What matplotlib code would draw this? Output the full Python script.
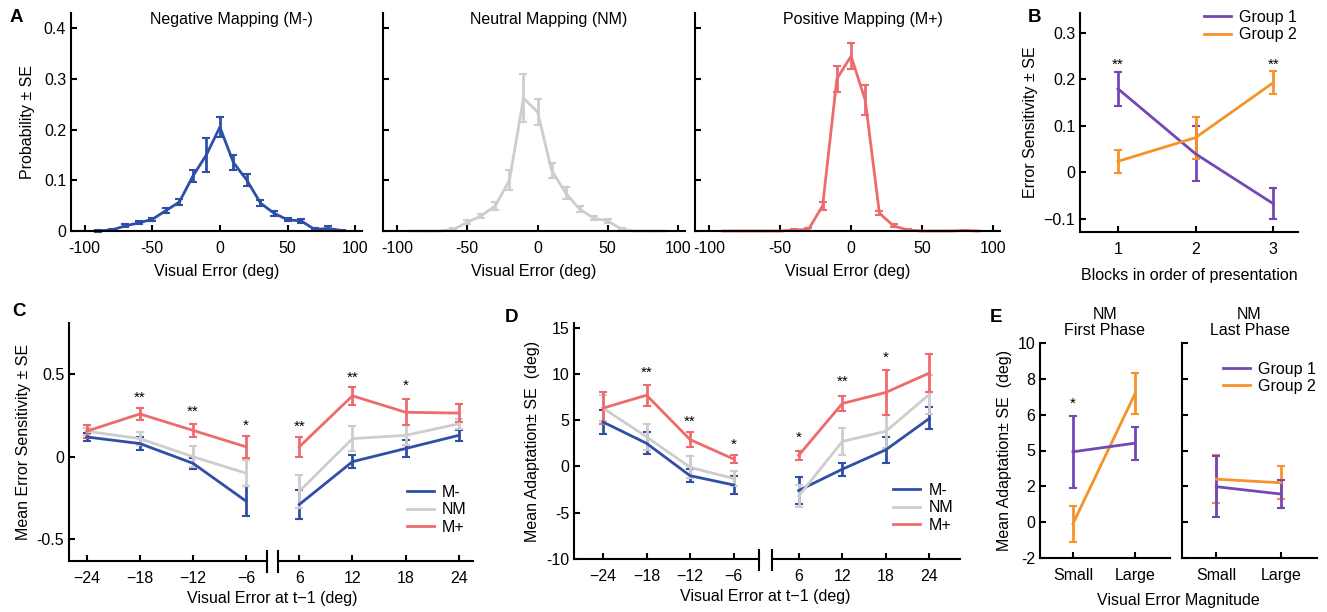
import matplotlib
matplotlib.use('Agg')
import matplotlib.pyplot as plt
from matplotlib.lines import Line2D
import numpy as np

plt.rcParams['font.family'] = ['Liberation Sans', 'DejaVu Sans']
plt.rcParams['font.size'] = 11.5
FS = 11.5

# ---- panel A: distributions of visual error ----
bins = np.arange(-90, 100, 10)
prob_mneg = [0.0, 0.002, 0.010, 0.016, 0.023, 0.040, 0.057, 0.108, 0.150, 0.205,
             0.135, 0.100, 0.055, 0.035, 0.022, 0.020, 0.003, 0.005, 0.001]
se_mneg = [0.001, 0.002, 0.003, 0.003, 0.003, 0.005, 0.006, 0.012, 0.033, 0.020,
           0.015, 0.012, 0.006, 0.005, 0.003, 0.004, 0.002, 0.005, 0.001]
prob_nm = [0.0, 0.0, 0.0, 0.003, 0.017, 0.030, 0.050, 0.100, 0.262, 0.235,
           0.120, 0.075, 0.043, 0.025, 0.020, 0.003, 0.0, 0.0, 0.0]
se_nm = [0, 0, 0, 0.002, 0.004, 0.004, 0.008, 0.020, 0.047, 0.026,
         0.015, 0.012, 0.006, 0.004, 0.004, 0.002, 0, 0, 0]
prob_mpos = [0.0, 0.0, 0.0, 0.0, 0.0, 0.002, 0.003, 0.050, 0.300, 0.345,
             0.258, 0.035, 0.010, 0.002, 0.0, 0.0, 0.0, 0.001, 0.0]
se_mpos = [0, 0, 0, 0, 0, 0.002, 0.003, 0.008, 0.026, 0.025,
           0.030, 0.004, 0.003, 0.001, 0, 0, 0, 0.001, 0]

# ---- panel B: error sensitivity by block ----
blocks = [1, 2, 3]
es_g1 = [0.180, 0.040, -0.067]
es_g1_se = [0.037, 0.059, 0.033]
es_g2 = [0.024, 0.075, 0.193]
es_g2_se = [0.025, 0.045, 0.025]
b_star_x = [1, 3]
b_star_y = [0.232, 0.232]

# ---- panels C and D: by previous visual error ----
err_neg = [-24, -18, -12, -6]
err_pos = [6, 12, 18, 24]
c_mneg = [0.12, 0.08, -0.04, -0.27, -0.29, -0.03, 0.05, 0.13]
c_mneg_se = [0.025, 0.04, 0.035, 0.09, 0.09, 0.04, 0.05, 0.035]
c_nm = [0.155, 0.11, 0.0, -0.10, -0.21, 0.11, 0.13, 0.20]
c_nm_se = [0.02, 0.04, 0.065, 0.08, 0.10, 0.075, 0.06, 0.03]
c_mpos = [0.155, 0.26, 0.16, 0.06, 0.06, 0.37, 0.27, 0.265]
c_mpos_se = [0.04, 0.035, 0.04, 0.065, 0.06, 0.055, 0.08, 0.055]
c_stars = ['', '**', '**', '*', '**', '**', '*', '']
c_star_y = [0, 0.36, 0.27, 0.19, 0.18, 0.48, 0.43, 0]

d_mneg = [4.8, 2.5, -1.0, -2.0, -2.6, -0.3, 1.8, 5.2]
d_mneg_se = [1.25, 1.2, 0.7, 1.0, 1.5, 0.7, 1.4, 1.2]
d_nm = [6.3, 3.2, -0.1, -1.3, -3.2, 2.7, 3.8, 7.8]
d_nm_se = [1.4, 1.4, 1.2, 0.8, 1.2, 1.5, 1.8, 2.1]
d_mpos = [6.3, 7.7, 2.9, 0.8, 1.2, 6.8, 8.0, 10.1]
d_mpos_se = [1.75, 1.15, 0.8, 0.4, 0.5, 0.8, 2.4, 2.05]
d_stars = ['', '**', '**', '*', '*', '**', '*', '']
d_star_y = [0, 10.1, 4.8, 2.3, 3.1, 9.1, 11.7, 0]

# ---- panel E: NM first / last phase ----
mag_labels = ['Small', 'Large']
e_first_g1 = [3.93, 4.41]
e_first_g1_se = [2.0, 0.92]
e_first_g2 = [-0.09, 7.19]
e_first_g2_se = [1.0, 1.15]
e_last_g1 = [1.98, 1.57]
e_last_g1_se = [1.7, 0.78]
e_last_g2 = [2.40, 2.20]
e_last_g2_se = [1.33, 0.92]

BLUE = '#2f4ea6'
GRAY = '#cdcdcd'
RED = '#ef6a6c'
PURPLE = '#7448b4'
ORANGE = '#f5932a'

W, H = 1327, 612
fig = plt.figure(figsize=(W / 100, H / 100), dpi=100)


def add_ax(l, t, r, b):
    return fig.add_axes([l / W, 1 - b / H, (r - l) / W, (b - t) / H])


def style(ax, left=True):
    for s in ['top', 'right']:
        ax.spines[s].set_visible(False)
    ax.spines['bottom'].set_linewidth(1.5)
    ax.spines['left'].set_linewidth(1.5)
    ax.tick_params(direction='in', width=1.5, length=4, labelsize=FS)
    ax.tick_params(axis='x', pad=7)
    if not left:
        ax.spines['left'].set_visible(False)
        ax.tick_params(axis='y', left=False, labelleft=False)


def ebar(ax, x, y, e, c):
    ax.errorbar(x, y, yerr=e, color=c, lw=2, elinewidth=2, capsize=3,
                capthick=1.5, clip_on=False)


def line_legend(ax, names, colors, **kw):
    handles = [Line2D([], [], color=c, lw=2) for c in colors]
    ax.legend(handles, names, frameon=False, handlelength=1.7,
              handletextpad=0.5, labelspacing=0.15, fontsize=FS, **kw)


# panel A
a_rects = [(71, 13, 362, 231), (383, 13, 685, 231), (695, 13, 1000, 231)]
a_data = [(prob_mneg, se_mneg, BLUE, 'Negative Mapping (M-)'),
          (prob_nm, se_nm, GRAY, 'Neutral Mapping (NM)'),
          (prob_mpos, se_mpos, RED, 'Positive Mapping (M+)')]
for i, (rect, (p, s, c, title)) in enumerate(zip(a_rects, a_data)):
    ax = add_ax(*rect)
    style(ax)
    ebar(ax, bins, p, s, c)
    ax.set_xlim(-110, 105)
    ax.set_ylim(0, 0.43)
    ax.set_xticks([-100, -50, 0, 50, 100])
    ax.set_xticklabels(['-100', '-50', '0', '50', '100'])
    ax.set_yticks([0, 0.1, 0.2, 0.3, 0.4])
    if i == 0:
        ax.set_yticklabels(['0', '0.1', '0.2', '0.3', '0.4'])
        ax.set_ylabel('Probability ± SE', fontsize=FS, labelpad=6)
    else:
        ax.set_yticklabels([])
    ax.set_xlabel('Visual Error (deg)', fontsize=FS, labelpad=6)
    ax.text(0.55, 0.97, title, transform=ax.transAxes, ha='center', va='center',
            fontsize=FS)

# panel B
ax = add_ax(1080, 13, 1298, 232)
style(ax)
ebar(ax, blocks, es_g1, es_g1_se, PURPLE)
ebar(ax, blocks, es_g2, es_g2_se, ORANGE)
for x, y in zip(b_star_x, b_star_y):
    ax.text(x, y, '**', ha='center', va='center', fontsize=11)
ax.set_xlim(0.51, 3.32)
ax.set_ylim(-0.128, 0.343)
ax.set_xticks(blocks)
ax.set_yticks([-0.1, 0, 0.1, 0.2, 0.3])
ax.set_yticklabels(['\u22120.1', '0', '0.1', '0.2', '0.3'])
ax.set_xlabel('Blocks in order of presentation', labelpad=8)
ax.set_ylabel('Error Sensitivity ± SE', labelpad=4)
line_legend(ax, ['Group 1', 'Group 2'], [PURPLE, ORANGE], loc='upper right',
            bbox_to_anchor=(1.06, 1.08))


def broken_panel(left_rect, right_rect, xl_left, xl_right, ylim, series,
                 stars, star_y, yticks, yticklabels, ylabel):
    axl = add_ax(*left_rect)
    axr = add_ax(*right_rect)
    style(axl)
    style(axr, left=False)
    for vals, se, c in series:
        ebar(axl, err_neg, vals[:4], se[:4], c)
        ebar(axr, err_pos, vals[4:], se[4:], c)
    for k, (s, y) in enumerate(zip(stars, star_y)):
        if s:
            a, x = (axl, err_neg[k]) if k < 4 else (axr, err_pos[k - 4])
            a.text(x, y, s, ha='center', va='center', fontsize=11)
    axl.set_xlim(*xl_left)
    axr.set_xlim(*xl_right)
    for a in (axl, axr):
        a.set_ylim(*ylim)
    axl.set_xticks(err_neg)
    axl.set_xticklabels(['\u2212%d' % abs(v) for v in err_neg])
    axr.set_xticks(err_pos)
    axl.set_yticks(yticks)
    axl.set_yticklabels(yticklabels)
    axl.set_ylabel(ylabel, labelpad=4)
    # axis break marks
    axl.plot([1, 1], [-0.045, 0.04], transform=axl.transAxes, color='k',
             lw=1.5, clip_on=False)
    axr.plot([0, 0], [-0.045, 0.04], transform=axr.transAxes, color='k',
             lw=1.5, clip_on=False)
    line_legend(axr, ['M-', 'NM', 'M+'], [BLUE, GRAY, RED], loc='lower right',
                bbox_to_anchor=(1.04, 0.05))
    mid = (left_rect[2] + right_rect[0]) / 2
    fig.text(mid / W, 1 - (left_rect[3] + 37) / H, 'Visual Error at t\u22121 (deg)',
             ha='center', va='center', fontsize=FS)


broken_panel((69, 323, 267, 561), (278, 323, 473, 561), (-26, -3.65), (3.6, 25.6),
             (-0.633, 0.812),
             [(c_mneg, c_mneg_se, BLUE), (c_nm, c_nm_se, GRAY),
              (c_mpos, c_mpos_se, RED)],
             c_stars, c_star_y, [-0.5, 0, 0.5], ['-0.5', '0', '0.5'],
             'Mean Error Sensitivity ± SE')

broken_panel((574, 323, 759, 559), (772, 323, 960, 559), (-28, -2.5), (2.33, 28.2),
             (-10, 15.5),
             [(d_mneg, d_mneg_se, BLUE), (d_nm, d_nm_se, GRAY),
              (d_mpos, d_mpos_se, RED)],
             d_stars, d_star_y, [-10, -5, 0, 5, 10, 15],
             ['-10', '-5', '0', '5', '10', '15'],
             'Mean Adaptation± SE  (deg)')

# panel E
xe = [0, 1]
e_panels = [((1040, 343, 1170, 558), e_first_g1, e_first_g1_se, e_first_g2,
             e_first_g2_se, 'NM\nFirst Phase'),
            ((1182, 343, 1317, 558), e_last_g1, e_last_g1_se, e_last_g2,
             e_last_g2_se, 'NM\nLast Phase')]
for i, (rect, g1, g1s, g2, g2s, title) in enumerate(e_panels):
    ax = add_ax(*rect)
    style(ax)
    ebar(ax, xe, g2, g2s, ORANGE)
    ebar(ax, xe, g1, g1s, PURPLE)
    ax.set_xlim(-0.53, 1.56)
    ax.set_ylim(-2, 10)
    ax.set_xticks(xe)
    ax.set_xticklabels(mag_labels)
    ax.set_yticks([-2, 0, 2, 4, 6, 8, 10])
    ax.set_title(title, fontsize=FS, pad=6, linespacing=1.05)
    if i == 0:
        ax.set_yticklabels(['-2', '0', '2', '5', '6', '8', '10'])
        ax.set_ylabel('Mean Adaptation± SE  (deg)', labelpad=4)
        ax.text(0, 6.6, '*', ha='center', va='center', fontsize=11)
    else:
        ax.set_yticklabels([])
        line_legend(ax, ['Group 1', 'Group 2'], [PURPLE, ORANGE],
                    loc='upper right', bbox_to_anchor=(1.1, 0.98))
fig.text(1178 / W, 1 - 600 / H, 'Visual Error Magnitude', ha='center', va='center',
         fontsize=FS)

# panel letters
for letter, x, y in [('A', 10, 18), ('B', 1028, 17), ('C', 12, 312),
                     ('D', 505, 318), ('E', 990, 318)]:
    fig.text(x / W, 1 - y / H, letter, fontsize=13.5, fontweight='bold',
             ha='left', va='center')

fig.savefig('out.png', dpi=100)
